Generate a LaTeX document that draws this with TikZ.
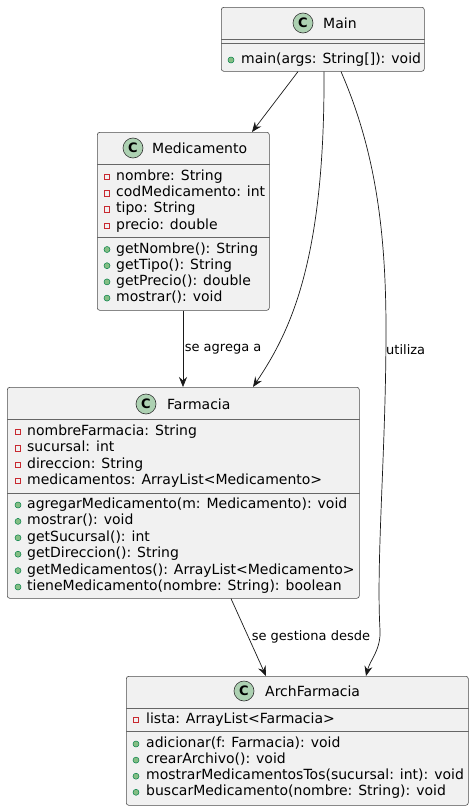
\documentclass[tikz,border=0pt]{standalone}
\usepackage{fontspec}
\setmainfont{DejaVu Sans}
\usetikzlibrary{arrows.meta,calc}
\definecolor{boxfill}{HTML}{F1F1F1}
\definecolor{iconfill}{HTML}{ADD1B2}
\definecolor{privred}{HTML}{C82930}
\definecolor{pubgreen}{HTML}{84BE84}
\definecolor{pubedge}{HTML}{038048}
\begin{document}
\begin{tikzpicture}[x=1pt,y=-1pt,
  classbox/.style={draw=black!70, line width=0.6pt, fill=boxfill,
    rounded corners=2.5pt, inner sep=0, anchor=north west},
  sep/.style={draw=black!60, line width=0.6pt},
  ctitle/.style={font=\fontsize{14}{16}\selectfont, anchor=west, inner sep=0},
  cicon/.style={circle, draw=black!80, fill=iconfill, line width=0.6pt,
    minimum size=20, inner sep=0, font=\fontsize{13}{13}\selectfont\bfseries},
  member/.style={font=\fontsize{14}{16}\selectfont, anchor=west, inner sep=0,
    text height=10, text depth=3},
  priv/.style={draw=privred, line width=0.6pt, minimum size=5.5, inner sep=0},
  pub/.style={circle, draw=pubedge, fill=pubgreen, line width=0.5pt,
    minimum size=6, inner sep=0},
  link/.style={draw=black!90, line width=0.7pt,
    -{Stealth[length=10pt,width=8pt,inset=3.5pt]}},
  lbl/.style={font=\fontsize{13}{15}\selectfont, anchor=west, inner sep=0}]
  \useasboundingbox (0,0) rectangle (474,811);

  % Main
  \node[classbox, minimum width=203, minimum height=64] (main) at (221,7) {};
  \draw[sep] ($(main.north west)+(0,32)$) -- ($(main.north east)+(0,32)$);
  \draw[sep] ($(main.north west)+(0,36)$) -- ($(main.north east)+(0,36)$);
  \node[cicon] (main-c) at (303,23) {C};
  \node[ctitle] (main-t) at (323,23) {Main};
  \node[pub] (main-m0) at (231,60) {};
  \node[member] (main-n0) at (241,60) {main(args: String[]): void};

  % Medicamento
  \node[classbox, minimum width=172, minimum height=178] (med) at (97,132) {};
  \draw[sep] ($(med.north west)+(0,32)$) -- ($(med.north east)+(0,32)$);
  \draw[sep] ($(med.north west)+(0,105)$) -- ($(med.north east)+(0,105)$);
  \node[cicon] (med-c) at (133,148) {C};
  \node[ctitle] (med-t) at (152,148) {Medicamento};
  \foreach \txt [count=\i from 0] in {nombre: String, codMedicamento: int,
      tipo: String, precio: double}
   {
    \node[priv] (med-a\i) at (107,{177+16.2*\i}) {};
    \node[member] (med-an\i) at (116,{177+16.2*\i}) {\txt};
   }
  \foreach \txt [count=\i from 0] in {getNombre(): String, getTipo(): String,
      getPrecio(): double, mostrar(): void}
   {
    \node[pub] (med-m\i) at (107,{249.5+16.2*\i}) {};
    \node[member] (med-mn\i) at (116,{249.5+16.2*\i}) {\txt};
   }

  % Farmacia
  \node[classbox, minimum width=352, minimum height=211] (farm) at (7,387) {};
  \draw[sep] ($(farm.north west)+(0,32)$) -- ($(farm.north east)+(0,32)$);
  \draw[sep] ($(farm.north west)+(0,106)$) -- ($(farm.north east)+(0,106)$);
  \node[cicon] (farm-c) at (146,404) {C};
  \node[ctitle] (farm-t) at (167,404) {Farmacia};
  \foreach \txt [count=\i from 0] in {nombreFarmacia: String, sucursal: int,
      direccion: String, medicamentos: ArrayList<Medicamento>}
   {
    \node[priv] (farm-a\i) at (18,{432+16.3*\i}) {};
    \node[member] (farm-an\i) at (27,{432+16.3*\i}) {\txt};
   }
  \foreach \txt [count=\i from 0] in {agregarMedicamento(m: Medicamento): void,
      mostrar(): void, getSucursal(): int, getDireccion(): String,
      getMedicamentos(): ArrayList<Medicamento>,
      tieneMedicamento(nombre: String): boolean}
   {
    \node[pub] (farm-m\i) at (18,{505+16.4*\i}) {};
    \node[member] (farm-mn\i) at (27,{505+16.4*\i}) {\txt};
   }

  % ArchFarmacia
  \node[classbox, minimum width=342, minimum height=129] (arch) at (126,676) {};
  \draw[sep] ($(arch.north west)+(0,32)$) -- ($(arch.north east)+(0,32)$);
  \draw[sep] ($(arch.north west)+(0,55)$) -- ($(arch.north east)+(0,55)$);
  \node[cicon] (arch-c) at (244,691) {C};
  \node[ctitle] (arch-t) at (265,691) {ArchFarmacia};
  \node[priv] (arch-a0) at (136,720) {};
  \node[member] (arch-an0) at (146,720) {lista: ArrayList<Farmacia>};
  \foreach \txt [count=\i from 0] in {adicionar(f: Farmacia): void,
      crearArchivo(): void, mostrarMedicamentosTos(sucursal: int): void,
      buscarMedicamento(nombre: String): void}
   {
    \node[pub] (arch-m\i) at (136,{744+16.1*\i}) {};
    \node[member] (arch-mn\i) at (146,{744+16.1*\i}) {\txt};
   }

  % links
  \draw[link] ($(main.south west)+(77,0)$) -- ($(med.north west)+(155,0)$);
  \draw[link] ($(main.south west)+(103,0)$)
    .. controls +(1,190) and +(37,-55) .. ($(farm.north west)+(246,0)$);
  \draw[link] ($(main.south west)+(120,0)$)
    .. controls +(34,78) and +(0,-100) .. (386,330)
    .. controls +(0,120) and +(-4,-70) .. (380,630)
    .. controls +(1,20) and +(4,-16) .. ($(arch.north west)+(240,0)$);
  \node[lbl] (utiliza) at (386,350) {utiliza};
  \draw[link] ($(med.south west)+(86,0)$) -- ($(farm.north west)+(176,0)$)
    node[lbl, pos=0.5, xshift=1.5] (agrega) {se agrega a};
  \draw[link] ($(farm.south west)+(224,0)$) -- ($(arch.north west)+(140,0)$)
    node[lbl, pos=0.5, xshift=3] (gestiona) {se gestiona desde};
\end{tikzpicture}
\end{document}
